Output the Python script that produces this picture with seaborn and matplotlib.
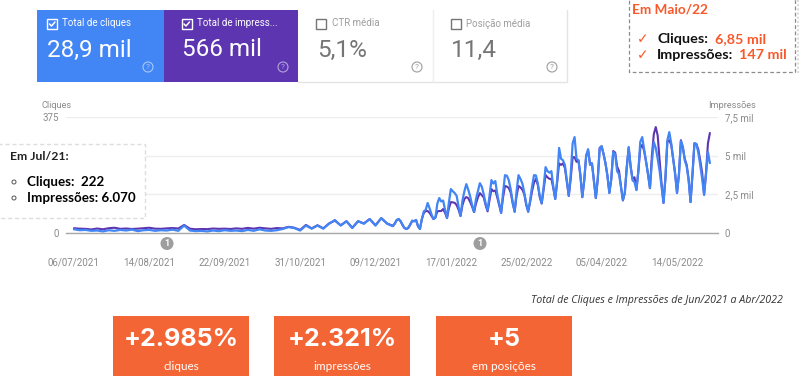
import pandas as pd
import seaborn as sns
import matplotlib.pyplot as plt
from matplotlib.patches import Rectangle, Circle

# early part is read every 3 days, from 18/12/2021 on it is daily
cliques_early = [12, 9, 10, 7, 8, 5, 9, 7, 10, 8, 11, 6, 9, 10, 7, 9, 8, 11, 7, 24,
                 8, 6, 7, 5, 8, 6, 9, 7, 8, 6, 10, 7, 12, 8, 7, 9,
                 13, 19, 16, 8, 24, 14, 24, 14, 30, 42, 24, 38, 16, 38, 30, 45, 24, 48, 30]
impressoes_early = [310, 280, 270, 230, 290, 240, 310, 340, 270, 290, 260, 280, 310, 340, 280, 270, 300, 320, 290, 520,
                    280, 240, 260, 250, 290, 270, 280, 260, 300, 270, 330, 280, 340, 300, 270, 320,
                    300, 400, 340, 200, 520, 300, 500, 300, 620, 800, 500, 760, 340, 760, 620, 900, 500, 960, 620]
cliques_daily = [22, 30, 42, 45, 38, 26, 16, 13,
                 18, 28, 40, 38, 42, 22, 13,
                 45, 70, 75, 97, 80, 60, 45,
                 50, 95, 113, 102, 105, 75, 48,
                 100, 142, 135, 129, 120, 85, 55,
                 105, 135, 158, 140, 118, 90, 68,
                 110, 135, 161, 150, 125, 95, 74,
                 120, 171, 160, 168, 125, 95, 65,
                 130, 187, 185, 170, 140, 100, 68,
                 135, 187, 175, 160, 130, 95, 68,
                 105, 150, 187, 186, 160, 120, 97,
                 150, 213, 200, 195, 200, 150, 110,
                 170, 275, 240, 235, 220, 170, 120,
                 190, 290, 310, 240, 235, 190, 116,
                 170, 250, 271, 220, 225, 170, 113,
                 175, 275, 281, 255, 225, 185, 129,
                 175, 262, 255, 200, 190, 150, 107,
                 130, 210, 278, 215, 170, 165, 139,
                 200, 295, 310, 270, 230, 190, 145,
                 230, 294, 275, 240, 200, 150, 97,
                 180, 300, 326, 290, 240, 190, 129,
                 190, 297, 280, 235, 215, 170, 100,
                 190, 290, 288, 260, 220, 175, 123,
                 190, 262, 226]
impressoes_daily = [460, 620, 840, 900, 760, 520, 320, 260,
                    320, 540, 780, 760, 840, 440, 260,
                    900, 1300, 1420, 1420, 1300, 1100, 900,
                    1000, 1400, 1420, 1420, 1550, 1300, 970,
                    1600, 2000, 1980, 1950, 1800, 1500, 1100,
                    1800, 2200, 2325, 2250, 2000, 1700, 1350,
                    1900, 2300, 2580, 2450, 2300, 1800, 1400,
                    2100, 2840, 2700, 2750, 2300, 1800, 1300,
                    2300, 3040, 3000, 2900, 2600, 1900, 1400,
                    2400, 3040, 2950, 2800, 2500, 1800, 1400,
                    2000, 2700, 3250, 3500, 3100, 2300, 1900,
                    2800, 3750, 3600, 3500, 3500, 2900, 2200,
                    3300, 4500, 4400, 4500, 4200, 3300, 2400,
                    3500, 4900, 4900, 4600, 4700, 3700, 2320,
                    3400, 5000, 5300, 4500, 4500, 3400, 2260,
                    3500, 5500, 5600, 5100, 4500, 3700, 2600,
                    3500, 5300, 5200, 4300, 4000, 3000, 2100,
                    2600, 4300, 5500, 4300, 3500, 3600, 2800,
                    4000, 5500, 5700, 5300, 4600, 3800, 2900,
                    5000, 6400, 6850, 6300, 4700, 3200, 1950,
                    3500, 5900, 6000, 5700, 4800, 3900, 2600,
                    3800, 6000, 5500, 4800, 4400, 3500, 2000,
                    3800, 5800, 5750, 5400, 4700, 3900, 2500,
                    3900, 5800, 6465]
x_labels = ['06/07/2021', '14/08/2021', '22/09/2021', '31/10/2021', '09/12/2021',
            '17/01/2022', '25/02/2022', '05/04/2022', '14/05/2022']
# 125 and 250 sit behind the Jul/21 callout in the original
cliques_ticks = [0, 375]
cliques_tick_labels = ['0', '375']
impressoes_ticks = [0, 2500, 5000, 7500]
impressoes_tick_labels = ['0', '2,5 mil', '5 mil', '7,5 mil']
kpi_big = ['+2.985%', '+2.321%', '+5']
kpi_small = ['cliques', 'impressões', 'em posições']

AZUL = '#4285f4'
ROXO = '#5e35b1'
LARANJA = '#f46536'
CINZA = '#8a8a8a'

sns.set_theme(style='white')
plt.rcParams['font.family'] = ['Roboto', 'DejaVu Sans']

dates = pd.date_range('2021-07-06', periods=len(cliques_early), freq='3D').append(
    pd.date_range('2021-12-18', periods=len(cliques_daily)))
df = pd.DataFrame({'data': dates,
                   'cliques': cliques_early + cliques_daily,
                   'impressoes': impressoes_early + impressoes_daily})

W, H = 807, 381
fig = plt.figure(figsize=(W / 100, H / 100), dpi=100)

# chart area, 66-718 px wide and 117-233 px down
ax = fig.add_axes([66 / W, 1 - 233 / H, 652 / W, 116 / H])
ax2 = ax.twinx()
ax.set_zorder(2)
ax2.set_zorder(1)
ax.patch.set_visible(False)

sns.lineplot(data=df, x='data', y='impressoes', ax=ax2, color=ROXO, lw=1.5, errorbar=None)
sns.lineplot(data=df, x='data', y='cliques', ax=ax, color=AZUL, lw=1.6, errorbar=None)

ax.set_xlim(pd.Timestamp('2021-07-06') - pd.Timedelta(days=4.1), pd.Timestamp('2021-07-06') + pd.Timedelta(days=333.2))
ax.set_ylim(0, 375)
ax2.set_ylim(0, 7500)
ax.set_xticks(pd.to_datetime(x_labels, format='%d/%m/%Y'))
ax.set_xticklabels(x_labels)
ax.set_yticks(cliques_ticks)
ax.set_yticklabels(cliques_tick_labels)
ax2.set_yticks(impressoes_ticks)
ax2.set_yticklabels(impressoes_tick_labels)
ax.set_xlabel('')
ax.set_ylabel('')
ax2.set_ylabel('')
ax.tick_params(axis='x', length=0, pad=18, labelsize=7.0, labelcolor=CINZA)
ax.tick_params(axis='y', length=0, pad=5, labelsize=7.0, labelcolor=CINZA)
ax2.tick_params(axis='y', length=0, pad=5, labelsize=7.0, labelcolor=CINZA)
ax2.grid(axis='y', color='#eeeeee', lw=1)
ax.grid(False)
for a in (ax, ax2):
    for s in a.spines.values():
        s.set_visible(False)
ax.spines['bottom'].set_visible(True)
ax.spines['bottom'].set_color('#a8a8a8')
ax.spines['bottom'].set_linewidth(1)

# everything else goes on one overlay in pixel coords
ov = fig.add_axes([0, 0, 1, 1], zorder=10)
ov.set_xlim(0, W)
ov.set_ylim(H, 0)
ov.axis('off')
ov.patch.set_visible(False)


def box(x0, y0, x1, y1, **kw):
    ov.add_patch(Rectangle((x0, y0), x1 - x0, y1 - y0, **kw))


def txt(x, y, s, **kw):
    kw.setdefault('va', 'center')
    ov.text(x, y, s, **kw)


def checkbox(x, y, cor, marcado):
    box(x, y, x + 10, y + 9.5, fc='none', ec=cor, lw=1)
    if marcado:
        ov.plot([x + 2.5, x + 4.5, x + 8], [y + 5, y + 7, y + 3], color=cor, lw=1.1)


def ajuda(x, y, cor):
    ov.add_patch(Circle((x, y), 5, fc='none', ec=cor, lw=0.8))
    txt(x, y, '?', color=cor, fontsize=6, ha='center')


# metric cards
box(36.5, 10, 164, 81.5, fc=AZUL, ec='none')
box(164, 10, 298, 81.5, fc=ROXO, ec='none')
ov.plot([298, 567, 567], [81.5, 81.5, 10], color='#e4e4e4', lw=1)
ov.plot([433, 433], [10, 81.5], color='#eeeeee', lw=1)

checkbox(47, 19, 'white', True)
checkbox(181.5, 19, 'white', True)
checkbox(316, 19, '#757575', False)
checkbox(451, 19, '#757575', False)
txt(62, 23.5, 'Total de cliques', color='white', fontsize=7.0)
txt(197, 23.5, 'Total de impress...', color='white', fontsize=7.0)
txt(331.5, 23.5, 'CTR média', color='#9e9e9e', fontsize=7.0)
txt(466, 23.5, 'Posição média', color='#9e9e9e', fontsize=7.0)
txt(47, 50, '28,9 mil', color='white', fontsize=17.5)
txt(182, 50, '566 mil', color='white', fontsize=17.5)
txt(317, 50, '5,1%', color='#757575', fontsize=17.5)
txt(451, 50, '11,4', color='#757575', fontsize=17.5)
ajuda(148, 67, '#a9c8fb')
ajuda(283, 67, '#b5a4dc')
ajuda(417, 67, '#9e9e9e')
ajuda(552, 67, '#9e9e9e')

# axis titles
txt(41, 105, 'Cliques', color=CINZA, fontsize=6.6)
txt(708, 105, 'Impressões', color=CINZA, fontsize=6.6)

# annotation markers under the axis
for cx in (167, 480):
    ov.add_patch(Circle((cx, 243.5), 6.5, fc='#9e9e9e', ec='none'))
    txt(cx, 243.5, '1', color='white', fontsize=6.5, ha='center', fontweight='bold')

# callout top right
box(629, -3, 795, 72, fc='white', ec='#8c8c8c', lw=0.9, ls=(0, (3, 2)))
ov.plot([798, 798], [0, 73], color='#dddddd', lw=1.5, ls=(0, (1, 1)))
txt(632, 9, 'Em Maio/22', color='#f9582a', fontsize=9.8, fontweight='bold', family='Lato')
for cy in (39, 55):
    txt(637, cy, '✓', color='#f9582a', fontsize=10, family='DejaVu Sans')
txt(657, 39, 'Cliques:', color='#111111', fontsize=10.4, fontweight='bold', family='Lato')
txt(715, 39, '6,85 mil', color='#f9582a', fontsize=10.4, fontweight='bold', family='Lato')
txt(657, 55, 'Impressões:', color='#111111', fontsize=10.4, fontweight='bold', family='Lato')
txt(739, 55, '147 mil', color='#f9582a', fontsize=10.4, fontweight='bold', family='Lato')

# callout left
box(-2, 144, 145, 218, fc='white', ec='#dddddd', lw=1, ls=(0, (3, 2)))
txt(10, 156, 'Em Jul/21:', color='#222222', fontsize=8.8, fontweight='bold', family='Lato')
for cy in (182, 198):
    ov.add_patch(Circle((14, cy), 2, fc='white', ec='#555555', lw=0.7))
txt(27, 182, 'Cliques:  222', color='black', fontsize=9.6, fontweight='bold', family='Lato')
txt(27, 198, 'Impressões: 6.070', color='black', fontsize=9.6, fontweight='bold', family='Lato')

# bottom
txt(783, 301, 'Total de Cliques e Impressões de Jun/2021 a Abr/2022', color='#333333',
    fontsize=7.7, style='italic', ha='right', family='Open Sans')
for x0, grande, pequeno in zip((113, 274, 436), kpi_big, kpi_small):
    box(x0, 316, x0 + 136, 376, fc=LARANJA, ec='none')
    txt(x0 + 68, 339, grande, color='white', fontsize=18, fontweight='bold', ha='center', family='Inter')
    txt(x0 + 68, 366, pequeno, color='white', fontsize=8.5, ha='center', family='Lato')

fig.savefig('out.png', dpi=100)
